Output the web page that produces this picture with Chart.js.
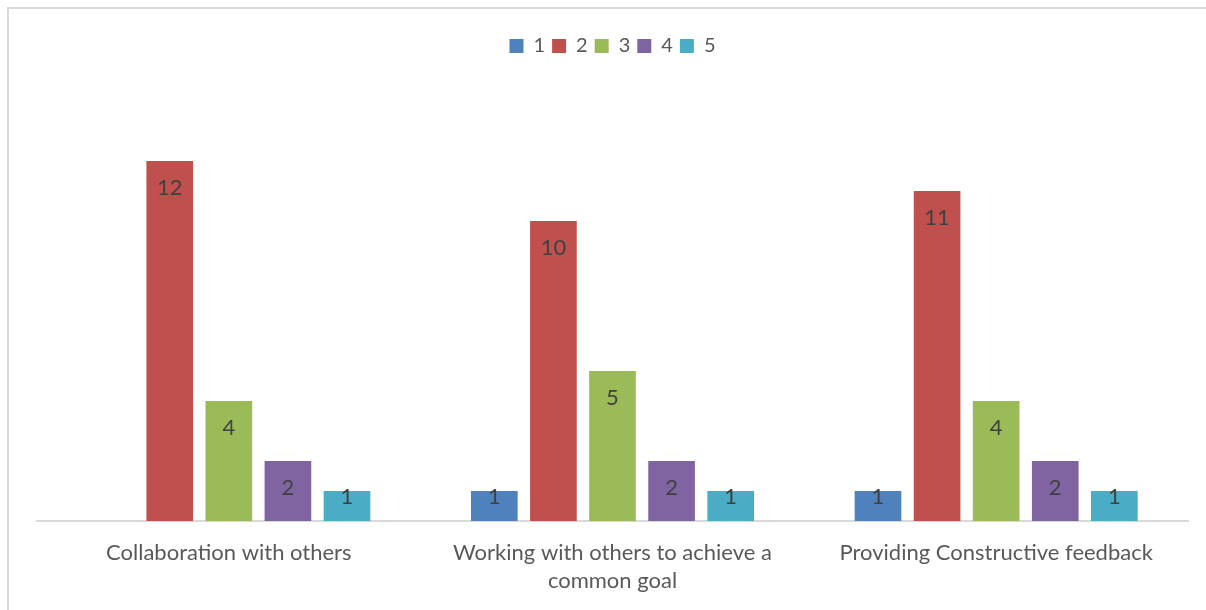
<!DOCTYPE html>
<html>
<head>
<meta charset="utf-8">
<script src="https://cdn.jsdelivr.net/npm/chart.js@4.4.1/dist/chart.umd.min.js"></script>
<style>
  html, body { margin: 0; padding: 0; background: #fff; overflow: hidden; }
  #wrap { width: 1206px; height: 610px; }
</style>
</head>
<body>
<div id="wrap"><canvas id="skillsChart" width="1206" height="610"></canvas></div>
<script>
// categorias del eje x
const skills = [
  ['Collaboration with others'],
  ['Working with others to achieve a', 'common goal'],
  ['Providing Constructive feedback']
];
// una serie por nivel de la escala
const levels = ['1', '2', '3', '4', '5'];
const level1 = [null, 1, 1];
const level2 = [12, 10, 11];
const level3 = [4, 5, 4];
const level4 = [2, 2, 2];
const level5 = [1, 1, 1];
const colors = ['#4F81BD', '#C0504D', '#9BBB59', '#8064A2', '#4BACC6'];

const FONT = 'Lato';

// marco gris alrededor del grafico
const frame = {
  id: 'frame',
  beforeDraw(chart) {
    const ctx = chart.ctx;
    ctx.save();
    ctx.strokeStyle = '#D9D9D9';
    ctx.lineWidth = 2;
    ctx.strokeRect(8, 8, 1400, 800);
    ctx.restore();
  }
};

// numeros dentro de cada barra, cerca del extremo superior
const valueLabels = {
  id: 'valueLabels',
  afterDatasetsDraw(chart) {
    const ctx = chart.ctx;
    ctx.save();
    ctx.fillStyle = '#404040';
    ctx.font = '22px ' + FONT;
    ctx.textAlign = 'center';
    ctx.textBaseline = 'middle';
    chart.data.datasets.forEach((ds, i) => {
      chart.getDatasetMeta(i).data.forEach((bar, j) => {
        if (ds.data[j] == null) return;
        const y = Math.min(bar.y + 27, bar.base - 24);
        ctx.fillText(ds.data[j], bar.x, y);
      });
    });
    ctx.restore();
  }
};

// alto fijo de la leyenda para que el area del grafico empiece donde toca
const legendHeight = {
  id: 'legendHeight',
  beforeInit(chart) {
    const fit = chart.legend.fit;
    chart.legend.fit = function () {
      fit.call(this);
      this.height = 72;
    };
  }
};

const series = [level1, level2, level3, level4, level5];

new Chart(document.getElementById('skillsChart'), {
  type: 'bar',
  data: {
    labels: skills,
    datasets: series.map((vals, i) => ({
      label: levels[i],
      data: vals,
      backgroundColor: colors[i],
      borderWidth: 0,
      categoryPercentage: 0.77,
      barPercentage: 0.79
    }))
  },
  options: {
    responsive: false,
    animation: false,
    layout: { padding: { left: 37, right: 18, top: 29, bottom: 0 } },
    scales: {
      x: {
        grid: { display: false, drawTicks: false },
        border: { display: true, color: '#D9D9D9', width: 2 },
        ticks: {
          color: '#595959',
          font: { family: FONT, size: 22, lineHeight: 1.27 },
          padding: 18,
          maxRotation: 0,
          autoSkip: false
        },
        afterFit(scale) { scale.height = 89; }
      },
      y: {
        display: false,
        min: 0,
        max: 14
      }
    },
    plugins: {
      legend: {
        position: 'top',
        labels: {
          color: '#595959',
          font: { family: FONT, size: 20 },
          boxWidth: 14,
          boxHeight: 14,
          padding: 7
        }
      },
      tooltip: { enabled: false }
    }
  },
  plugins: [frame, valueLabels, legendHeight]
});
</script>
</body>
</html>
